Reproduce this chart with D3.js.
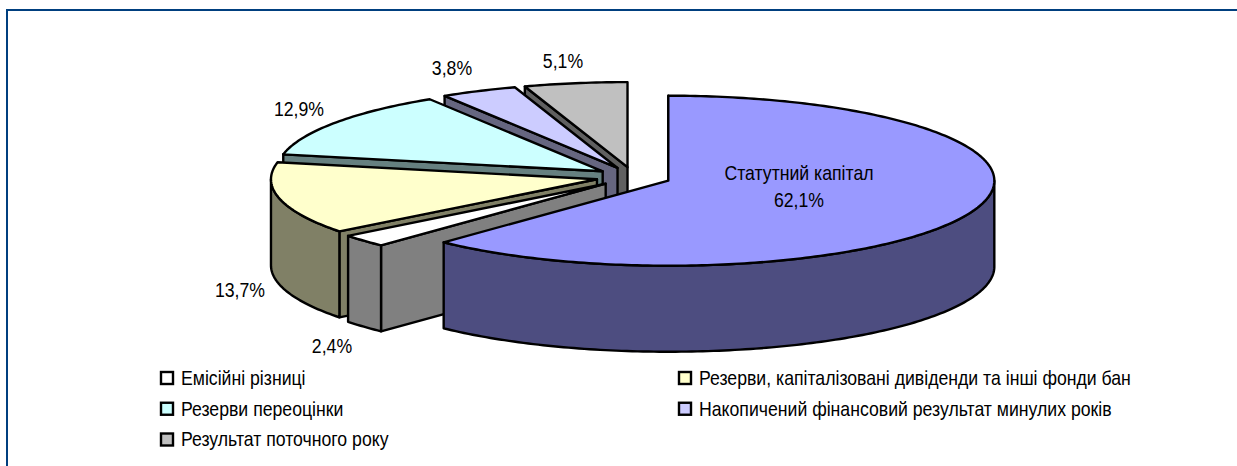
<!DOCTYPE html>
<html>
<head>
<meta charset="utf-8">
<script src="https://cdn.jsdelivr.net/npm/d3@7"></script>
<style>
  html, body { margin: 0; padding: 0; background: #fff; }
  svg { display: block; }
  text { font-family: "Liberation Sans", Arial, sans-serif; fill: #000; }
</style>
</head>
<body>
<script>
const width = 1237;
const height = 466;

// values, clockwise from 12 o'clock
const sliceNames = ['Статутний капітал', 'Емісійні різниці', 'Резерви, капіталізовані дивіденди та інші фонди бан',
  'Резерви переоцінки', 'Накопичений фінансовий результат минулих років', 'Результат поточного року'];
const sliceValues = [62.1, 2.4, 13.7, 12.9, 3.8, 5.1];
const sliceLabels = ['62,1%', '2,4%', '13,7%', '12,9%', '3,8%', '5,1%'];
const topColors = ['#9999ff', '#ffffff', '#ffffcc', '#ccffff', '#ccccff', '#c0c0c0'];
const wallColors = ['#4d4d80', '#808080', '#808066', '#668080', '#666680', '#606060'];

// legend leaves out the first slice, two columns
const legendOrder = [1, 2, 3, 4, 5];

const center = { x: 633.5, y: 177 };
const rx = 326;
const ry = 85;
const depth = 86;
const explodeX = 37.5;
const explodeY = 10;

const labelX = [799, 332, 240, 299, 452, 563];
const labelY = [200, 346, 290, 109, 68, 61];

const svg = d3.select('body')
  .append('svg')
  .attr('width', width)
  .attr('height', height);

// frame, only top and left are visible
svg.append('path')
  .attr('d', 'M7,' + height + 'V10H' + width)
  .attr('fill', 'none')
  .attr('stroke', '#003f7f')
  .attr('stroke-width', 2);

const pieData = d3.pie().sort(null).value(d => d)(sliceValues);

function apexOf(d) {
  const mid = (d.startAngle + d.endAngle) / 2;
  return {
    x: center.x + explodeX * Math.sin(mid),
    y: center.y - explodeY * Math.cos(mid),
  };
}

function rim(apex, a) {
  return [apex.x + rx * Math.sin(a), apex.y - ry * Math.cos(a)];
}

function arcPoints(apex, a0, a1) {
  const n = Math.max(2, Math.ceil((a1 - a0) * 60));
  return d3.range(n + 1).map(i => rim(apex, a0 + (a1 - a0) * i / n));
}

const line = d3.line();
const pie_g = svg.append('g').attr('class', 'pie');

function face(d, color) {
  pie_g.append('path')
    .attr('d', d)
    .attr('fill', color)
    .attr('stroke', '#000')
    .attr('stroke-width', 2.4)
    .attr('stroke-linejoin', 'round');
}

// back slices first, the big one last
pieData.slice().reverse().forEach(function(d) {
  const apex = apexOf(d);
  const i = d.index;

  // radial wall at the start edge
  const p = rim(apex, d.startAngle);
  face(line([[apex.x, apex.y], p, [p[0], p[1] + depth], [apex.x, apex.y + depth]]) + 'Z', wallColors[i]);

  // outer wall, front half only
  const a0 = Math.max(d.startAngle, Math.PI / 2);
  const a1 = Math.min(d.endAngle, Math.PI * 1.5);
  if (a1 > a0) {
    const upper = arcPoints(apex, a0, a1);
    const lower = upper.map(q => [q[0], q[1] + depth]).reverse();
    face(line(upper.concat(lower)) + 'Z', wallColors[i]);
  }

  // top
  face(line([[apex.x, apex.y]].concat(arcPoints(apex, d.startAngle, d.endAngle))) + 'Z', topColors[i]);
});

// labels
const labelScaleX = 0.862;
function squeezed(g, x, y, str, anchor) {
  g.append('text')
    .attr('transform', 'translate(' + x + ',' + y + ') scale(' + labelScaleX + ',1)')
    .attr('text-anchor', anchor)
    .attr('dominant-baseline', 'central')
    .attr('font-size', 20.5)
    .text(str);
}

const label_g = svg.append('g').attr('class', 'labels');
sliceLabels.forEach(function(t, i) {
  squeezed(label_g, labelX[i], labelY[i], t, 'middle');
});
squeezed(label_g, 799, 173, sliceNames[0], 'middle');

// legend
const legendX = d3.scaleOrdinal().domain([0, 1]).range([161, 679]);
const legendY = d3.scalePoint().domain([0, 1, 2]).range([378, 439.5]);
const legend_g = svg.append('g').attr('class', 'legend');

legendOrder.forEach(function(s, k) {
  const x = legendX(k % 2);
  const y = legendY(Math.floor(k / 2));
  legend_g.append('rect')
    .attr('x', x)
    .attr('y', y - 6)
    .attr('width', 12)
    .attr('height', 12)
    .attr('fill', topColors[s])
    .attr('stroke', '#000')
    .attr('stroke-width', 2.4);
  squeezed(legend_g, x + 20, y, sliceNames[s], 'start');
});
</script>
</body>
</html>
